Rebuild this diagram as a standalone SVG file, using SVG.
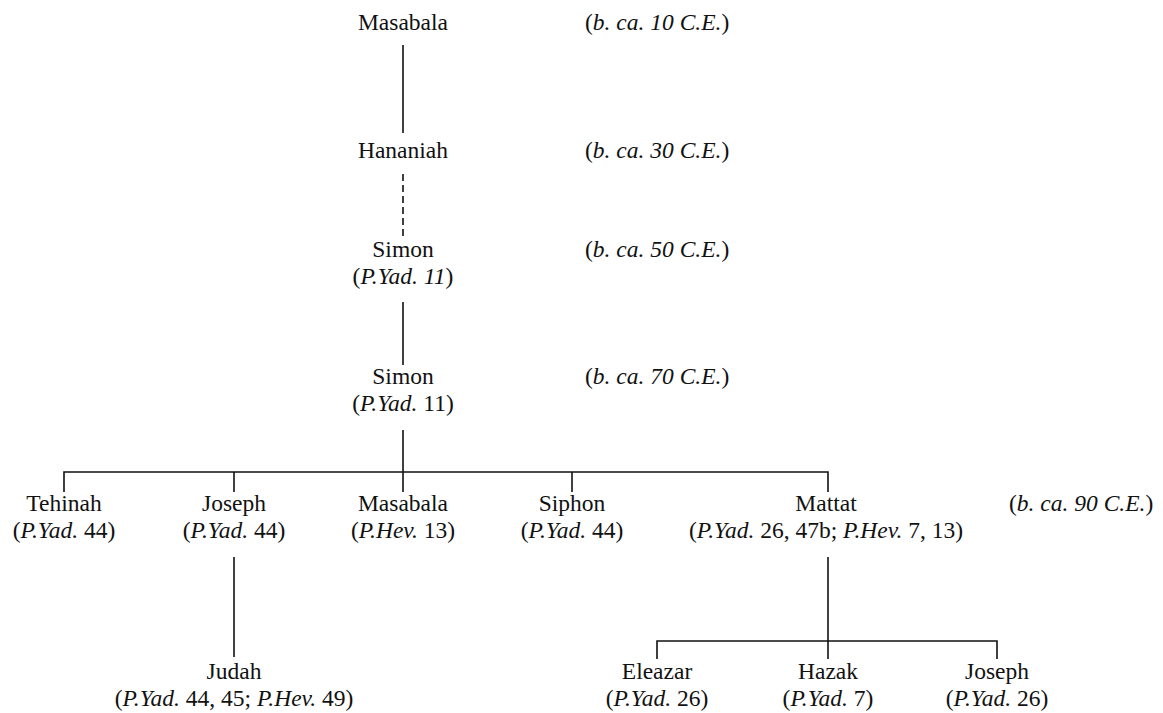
<svg xmlns="http://www.w3.org/2000/svg" width="1163" height="713" viewBox="0 0 1163 713">
<style>
text{font-family:"Liberation Serif","Times New Roman",serif;font-size:23.5px;fill:#111;}
.c{text-anchor:middle;}
.i{font-style:italic;}
.ln{stroke:#111;stroke-width:1.6;fill:none;}
.dash{stroke-dasharray:7,4;}
</style>
<rect width="1163" height="713" fill="#fff"/>
<g id="connectors">
<line class="ln" x1="403" y1="45" x2="403" y2="133"/>
<line class="ln dash" x1="403" y1="174" x2="403" y2="236"/>
<line class="ln" x1="403" y1="302" x2="403" y2="365"/>
<line class="ln" x1="403" y1="430" x2="403" y2="492"/>
<polyline class="ln" points="64,492 64,472 828,472 828,492"/>
<line class="ln" x1="234" y1="472" x2="234" y2="492"/>
<line class="ln" x1="572" y1="472" x2="572" y2="492"/>
<line class="ln" x1="234" y1="557" x2="234" y2="657"/>
<line class="ln" x1="828" y1="557" x2="828" y2="659"/>
<polyline class="ln" points="657,659 657,641 997,641 997,659"/>
</g>
<g id="n-masabala1"><text class="c" x="403" y="30">Masabala</text></g>
<g id="d-10"><text x="585" y="30">(<tspan class="i">b. ca. 10 C.E.</tspan>)</text></g>
<g id="n-hananiah"><text class="c" x="403" y="158">Hananiah</text></g>
<g id="d-30"><text x="585" y="158">(<tspan class="i">b. ca. 30 C.E.</tspan>)</text></g>
<g id="n-simon1"><text class="c" x="403" y="257">Simon</text><text class="c" x="403" y="284">(<tspan class="i">P.Yad. 11</tspan>)</text></g>
<g id="d-50"><text x="585" y="257">(<tspan class="i">b. ca. 50 C.E.</tspan>)</text></g>
<g id="n-simon2"><text class="c" x="403" y="384">Simon</text><text class="c" x="403" y="411">(<tspan class="i">P.Yad.</tspan> 11)</text></g>
<g id="d-70"><text x="585" y="384">(<tspan class="i">b. ca. 70 C.E.</tspan>)</text></g>
<g id="n-tehinah"><text class="c" x="64" y="511">Tehinah</text><text class="c" x="64" y="538">(<tspan class="i">P.Yad.</tspan> 44)</text></g>
<g id="n-joseph1"><text class="c" x="234" y="511">Joseph</text><text class="c" x="234" y="538">(<tspan class="i">P.Yad.</tspan> 44)</text></g>
<g id="n-masabala2"><text class="c" x="403" y="511">Masabala</text><text class="c" x="403" y="538">(<tspan class="i">P.Hev.</tspan> 13)</text></g>
<g id="n-siphon"><text class="c" x="572" y="511">Siphon</text><text class="c" x="572" y="538">(<tspan class="i">P.Yad.</tspan> 44)</text></g>
<g id="n-mattat"><text class="c" x="826" y="511">Mattat</text><text class="c" x="826" y="538">(<tspan class="i">P.Yad.</tspan> 26, 47b; <tspan class="i">P.Hev.</tspan> 7, 13)</text></g>
<g id="d-90"><text x="1009" y="511">(<tspan class="i">b. ca. 90 C.E.</tspan>)</text></g>
<g id="n-judah"><text class="c" x="234" y="679">Judah</text><text class="c" x="234" y="706">(<tspan class="i">P.Yad.</tspan> 44, 45; <tspan class="i">P.Hev.</tspan> 49)</text></g>
<g id="n-eleazar"><text class="c" x="657" y="679">Eleazar</text><text class="c" x="657" y="706">(<tspan class="i">P.Yad.</tspan> 26)</text></g>
<g id="n-hazak"><text class="c" x="828" y="679">Hazak</text><text class="c" x="828" y="706">(<tspan class="i">P.Yad.</tspan> 7)</text></g>
<g id="n-joseph2"><text class="c" x="997" y="679">Joseph</text><text class="c" x="997" y="706">(<tspan class="i">P.Yad.</tspan> 26)</text></g>
</svg>
